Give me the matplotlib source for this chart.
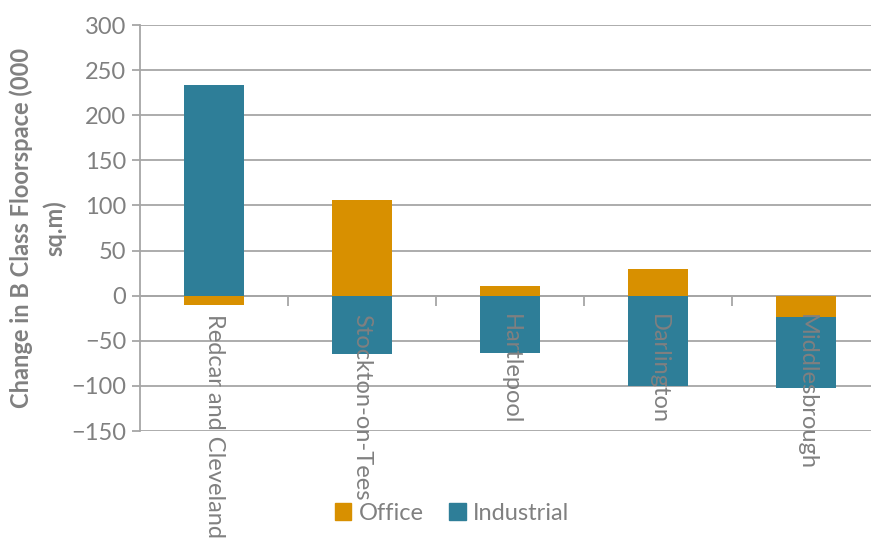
import matplotlib.pyplot as plt
import numpy as np
from matplotlib.patches import Patch

# Net change in B class floorspace by local authority (000 sq.m)
areas = ["Redcar and Cleveland", "Stockton-on-Tees", "Hartlepool", "Darlington", "Middlesbrough"]
office = [-10, 106, 11, 30, -24]
industrial = [234, -65, -63, -100, -78]

office_col = "#D89000"
ind_col = "#2E7E98"
grey = "#808080"
grid_col = "#A6A6A6"

plt.rcParams['font.family'] = ['Lato', 'DejaVu Sans']
fs = 17

fig = plt.figure(figsize=(8.71, 5.41), dpi=100)
ax = fig.add_axes([140 / 871, 1 - 431 / 541, 1 - 140 / 871, (431 - 25) / 541])

x = np.arange(len(areas))
office = np.array(office, dtype=float)
industrial = np.array(industrial, dtype=float)

# Excel-style stacking: positives stack up from zero, negatives stack down from zero
off_base = np.zeros(len(areas))
ind_base = np.where(np.sign(industrial) == np.sign(office), office, 0)

w = 0.4
ax.bar(x, office, w, bottom=off_base, color=office_col, zorder=3)
ax.bar(x, industrial, w, bottom=ind_base, color=ind_col, zorder=3)

ax.set_ylim(-150, 300)
ax.set_xlim(-0.5, (871 - 140) / 148 - 0.5)
ax.set_yticks(np.arange(-150, 301, 50))
ax.yaxis.grid(True, color=grid_col, linewidth=1.3, zorder=0)
ax.set_axisbelow(True)

for s in ['top', 'right']:
    ax.spines[s].set_visible(False)
ax.spines['left'].set_color(grid_col)
ax.spines['left'].set_linewidth(1.3)
ax.spines['bottom'].set_position(('data', 0))
ax.spines['bottom'].set_color(grid_col)
ax.spines['bottom'].set_linewidth(1.3)

ax.tick_params(axis='y', length=6, color=grid_col, width=1.3, labelsize=fs,
               labelcolor=grey, pad=4)
ax.set_xticks(x)
ax.set_xticklabels(areas, rotation=270, fontsize=fs, color=grey)
ax.tick_params(axis='x', which='major', length=0, pad=13)
ax.set_xticks(np.arange(0.5, len(areas) - 0.5, 1), minor=True)
ax.tick_params(axis='x', which='minor', length=7, color=grid_col, width=1.3)
# category names sit on top of the bars
ax.xaxis.set_zorder(5)

fig.text(0.044, 1 - 228 / 541, "Change in B Class Floorspace (000\nsq.m)", rotation=90,
         ha='center', va='center', fontsize=fs, color=grey, fontweight='bold',
         linespacing=1.5)

handles = [Patch(color=office_col, label="Office"), Patch(color=ind_col, label="Industrial")]
fig.legend(handles=handles, loc='center', bbox_to_anchor=(452 / 871, 1 - 513 / 541),
           ncol=2, frameon=False, fontsize=fs, labelcolor=grey,
           handlelength=0.7, handleheight=0.7, handletextpad=0.3, columnspacing=1.1)

fig.savefig("out.png", dpi=100)
